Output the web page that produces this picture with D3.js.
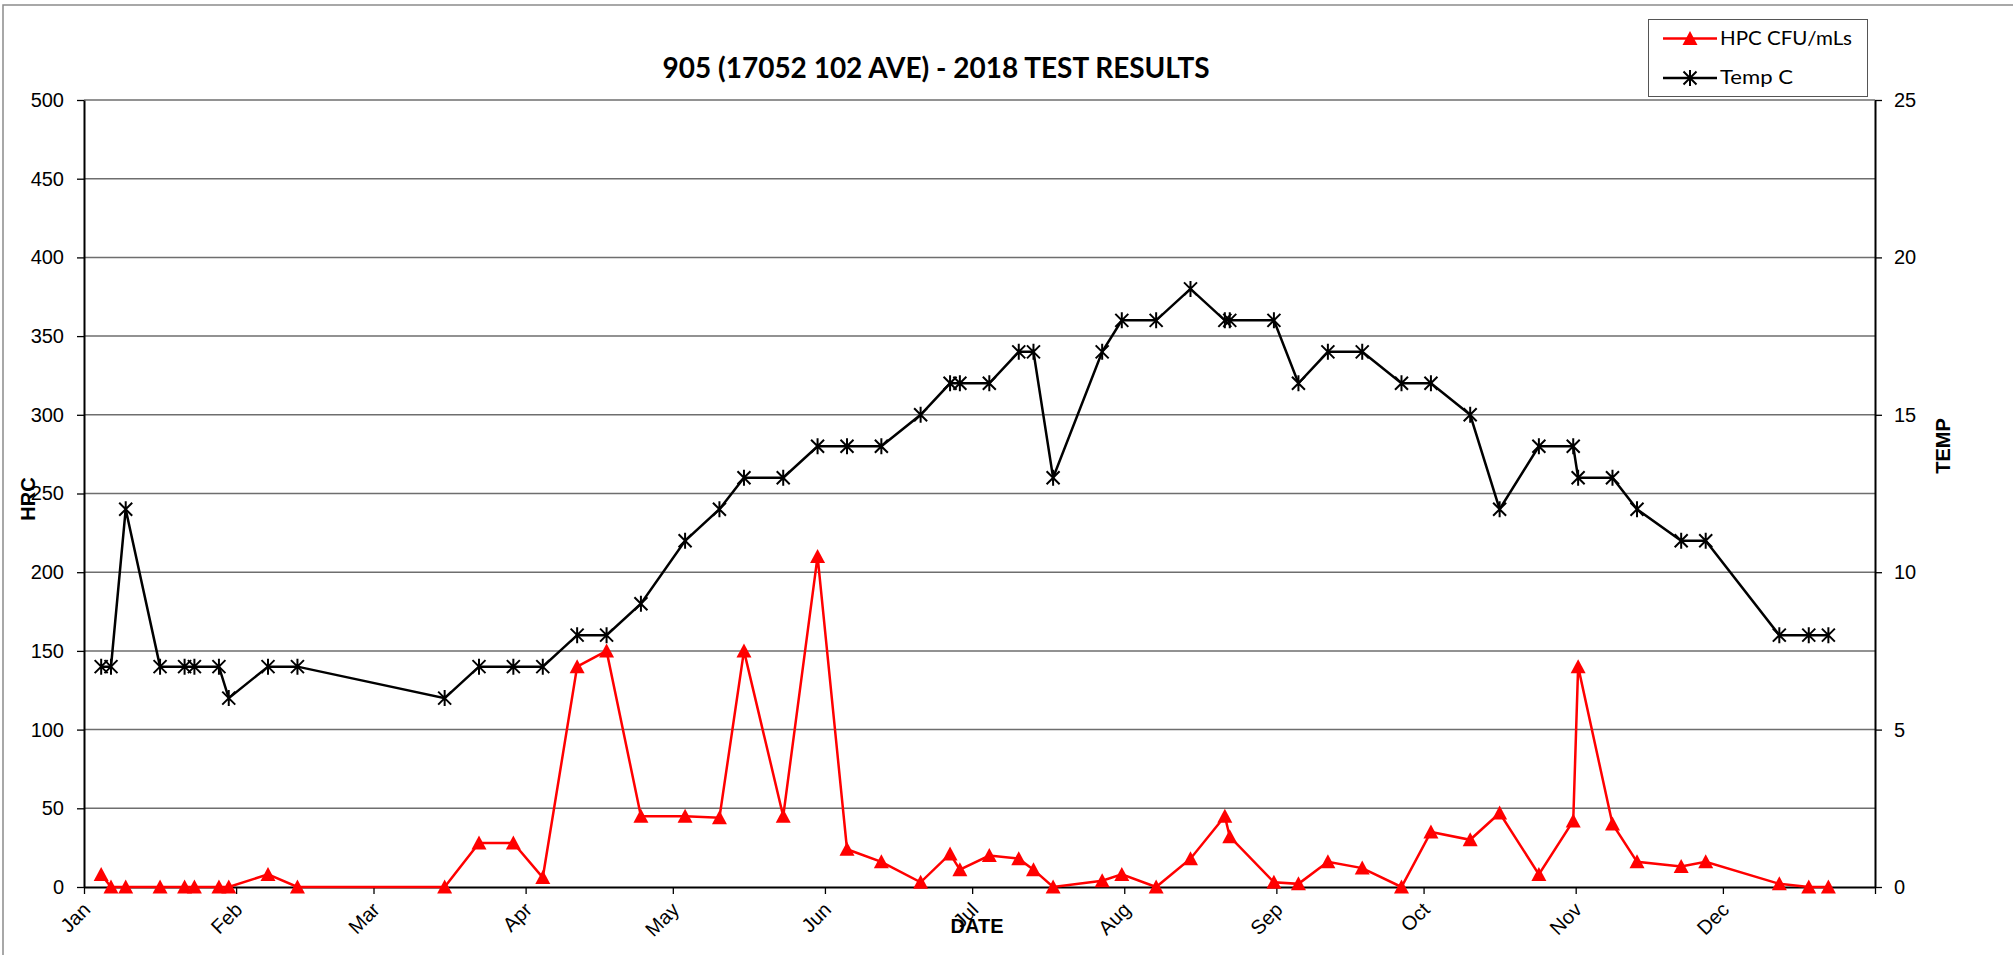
<html>
<head>
<meta charset="utf-8">
<style>
  body { margin: 0; background: #fff; }
  .tick text { font-family: "Liberation Sans", Arial, sans-serif; font-size: 20px; fill: #000; }
</style>
</head>
<body>
<script src="https://cdn.jsdelivr.net/npm/d3@7/dist/d3.min.js"></script>
<script>
var width = 2013,
    height = 955;

// sample dates (2018)
var sampleDates = ["2018-01-04","2018-01-06","2018-01-09","2018-01-16","2018-01-21","2018-01-23","2018-01-28","2018-01-30",
    "2018-02-07","2018-02-13","2018-03-15","2018-03-22","2018-03-29","2018-04-04","2018-04-11","2018-04-17","2018-04-24",
    "2018-05-03","2018-05-10","2018-05-15","2018-05-23","2018-05-30","2018-06-05","2018-06-12","2018-06-20","2018-06-26",
    "2018-06-28","2018-07-04","2018-07-10","2018-07-13","2018-07-17","2018-07-27","2018-07-31","2018-08-07","2018-08-14",
    "2018-08-21","2018-08-22","2018-08-31","2018-09-05","2018-09-11","2018-09-18","2018-09-26","2018-10-02","2018-10-10",
    "2018-10-16","2018-10-24","2018-10-31","2018-11-01","2018-11-08","2018-11-13","2018-11-22","2018-11-27","2018-12-12",
    "2018-12-18","2018-12-22"];

var hpc = [8,0,0,0,0,0,0,0,8,0,0,28,28,6,140,150,45,45,44,150,45,210,24,16,3,21,11,20,18,11,0,4,8,0,18,45,32,3,2,16,12,0,
    35,30,47,8,42,140,40,16,13,16,2,0,0];

var tempC = [7,7,12,7,7,7,7,6,7,7,6,7,7,7,8,8,9,11,12,13,13,14,14,14,15,16,16,16,17,17,13,17,18,18,19,18,18,18,16,17,17,16,
    16,15,12,14,14,13,13,12,11,11,8,8,8];

var monthLabels = ["Jan","Feb","Mar","Apr","May","Jun","Jul","Aug","Sep","Oct","Nov","Dec"];
var hpcTicks = [0,50,100,150,200,250,300,350,400,450,500];
var tempTicks = [0,5,10,15,20,25];

var parse = d3.timeParse("%Y-%m-%d");
var rows = sampleDates.map(function(s, i){
    // excel date axis puts each point in the middle of its day
    return { date: d3.timeHour.offset(parse(s), 12), hpc: hpc[i], temp: tempC[i] };
});

var x = d3.scaleTime()
    .domain([new Date(2018,0,1), new Date(2019,0,1)])
    .range([84,1875]);
var yL = d3.scaleLinear().domain([0,500]).range([887,100]);
var yR = d3.scaleLinear().domain([0,25]).range([887,100]);

var svg = d3.select("body").append("svg")
    .attr("width",width)
    .attr("height",height);

// outer chart border
svg.append("rect")
    .attr("x",3).attr("y",5)
    .attr("width",width+10).attr("height",height+10)
    .attr("fill","none")
    .attr("stroke","#8c8c8c")
    .attr("stroke-width",1.5);

// gridlines
svg.append("g").selectAll("line")
    .data(hpcTicks.slice(1))
    .enter().append("line")
    .attr("x1",84).attr("x2",1875)
    .attr("y1",function(d){ return yL(d); })
    .attr("y2",function(d){ return yL(d); })
    .attr("stroke","#6e6e6e")
    .attr("stroke-width",1.5);

// left axis
var gl = svg.append("g")
    .attr("transform","translate(84,0)")
    .call(d3.axisLeft(yL).tickValues(hpcTicks).tickSize(7).tickSizeOuter(0).tickPadding(13));

// right axis
var gr = svg.append("g")
    .attr("transform","translate(1875,0)")
    .call(d3.axisRight(yR).tickValues(tempTicks).tickSize(7).tickSizeOuter(0).tickPadding(12));

// bottom axis
var monthTicks = d3.timeMonth.range(new Date(2018,0,1), new Date(2019,0,2));
var gb = svg.append("g")
    .attr("transform","translate(0,887)")
    .call(d3.axisBottom(x).tickValues(monthTicks).tickSize(7).tickSizeOuter(0)
        .tickFormat(function(d){ return d.getFullYear() === 2018 ? monthLabels[d.getMonth()] : ""; }));

gb.selectAll(".tick text")
    .attr("x",0).attr("y",0).attr("dy",0)
    .style("text-anchor","end")
    .attr("transform","translate(7,24) rotate(-45)");

[gl,gr,gb].forEach(function(g){
    g.select(".domain").attr("stroke","#000").attr("stroke-width",2);
    g.selectAll(".tick line").attr("stroke","#000").attr("stroke-width",1.3);
});

// series lines
var hpcLine = d3.line()
    .x(function(d){ return x(d.date); })
    .y(function(d){ return yL(d.hpc); });
var tempLine = d3.line()
    .x(function(d){ return x(d.date); })
    .y(function(d){ return yR(d.temp); });

svg.append("path")
    .datum(rows)
    .attr("d",tempLine)
    .attr("fill","none")
    .attr("stroke","#000")
    .attr("stroke-width",2.5);

var starPath = "M-6.5,-6.5L6.5,6.5M-6.5,6.5L6.5,-6.5M0,-8L0,8";
var triPath = "M0,-7.5L7.5,6.5L-7.5,6.5Z";

svg.append("g").selectAll("path")
    .data(rows)
    .enter().append("path")
    .attr("transform",function(d){ return "translate(" + x(d.date) + "," + yR(d.temp) + ")"; })
    .attr("d",starPath)
    .attr("stroke","#000")
    .attr("stroke-width",2)
    .attr("fill","none");

svg.append("path")
    .datum(rows)
    .attr("d",hpcLine)
    .attr("fill","none")
    .attr("stroke","#ff0000")
    .attr("stroke-width",2.5);

svg.append("g").selectAll("path")
    .data(rows)
    .enter().append("path")
    .attr("transform",function(d){ return "translate(" + x(d.date) + "," + yL(d.hpc) + ")"; })
    .attr("d",triPath)
    .attr("fill","#ff0000");

// title
svg.append("text")
    .attr("x",936).attr("y",78)
    .attr("text-anchor","middle")
    .attr("textLength",547)
    .attr("lengthAdjust","spacingAndGlyphs")
    .style("font-family","Lato, 'Open Sans', sans-serif")
    .style("font-weight","bold")
    .style("font-size","29px")
    .text("905 (17052 102 AVE) - 2018 TEST RESULTS");

// axis titles
var axisTitle = { "font-family": "'Liberation Sans', Arial, sans-serif", "font-weight": "bold", "font-size": "20px" };
function styled(t){
    for (var k in axisTitle) t.style(k, axisTitle[k]);
    return t;
}
styled(svg.append("text")
    .attr("transform","translate(35,499) rotate(-90)")
    .attr("text-anchor","middle")
    .text("HRC"));
styled(svg.append("text")
    .attr("transform","translate(1950,446) rotate(-90)")
    .attr("text-anchor","middle")
    .text("TEMP"));
styled(svg.append("text")
    .attr("x",977).attr("y",933)
    .attr("text-anchor","middle")
    .style("font-size","21px")
    .text("DATE"));

// legend
var legend = svg.append("g");
legend.append("rect")
    .attr("x",1648.5).attr("y",19.5)
    .attr("width",219).attr("height",77)
    .attr("fill","#fff")
    .attr("stroke","#555")
    .attr("stroke-width",1);

var legendItems = [
    { label: "HPC CFU/mLs", color: "#ff0000", marker: triPath, filled: true, y: 38.5, len: 132 },
    { label: "Temp C", color: "#000", marker: starPath, filled: false, y: 78, len: 73 }
];
var li = legend.selectAll(".item")
    .data(legendItems)
    .enter().append("g")
    .attr("class","item");
li.append("line")
    .attr("x1",1663).attr("x2",1717)
    .attr("y1",function(d){ return d.y; })
    .attr("y2",function(d){ return d.y; })
    .attr("stroke",function(d){ return d.color; })
    .attr("stroke-width",2.5);
li.append("path")
    .attr("transform",function(d){ return "translate(1690," + d.y + ")"; })
    .attr("d",function(d){ return d.marker; })
    .attr("fill",function(d){ return d.filled ? d.color : "none"; })
    .attr("stroke",function(d){ return d.filled ? "none" : d.color; })
    .attr("stroke-width",2);
li.append("text")
    .attr("x",1720)
    .attr("y",function(d){ return d.y + 6; })
    .attr("textLength",function(d){ return d.len; })
    .attr("lengthAdjust","spacingAndGlyphs")
    .style("font-family","Lato, 'Open Sans', sans-serif")
    .style("font-size","19px")
    .text(function(d){ return d.label; });
</script>
</body>
</html>
